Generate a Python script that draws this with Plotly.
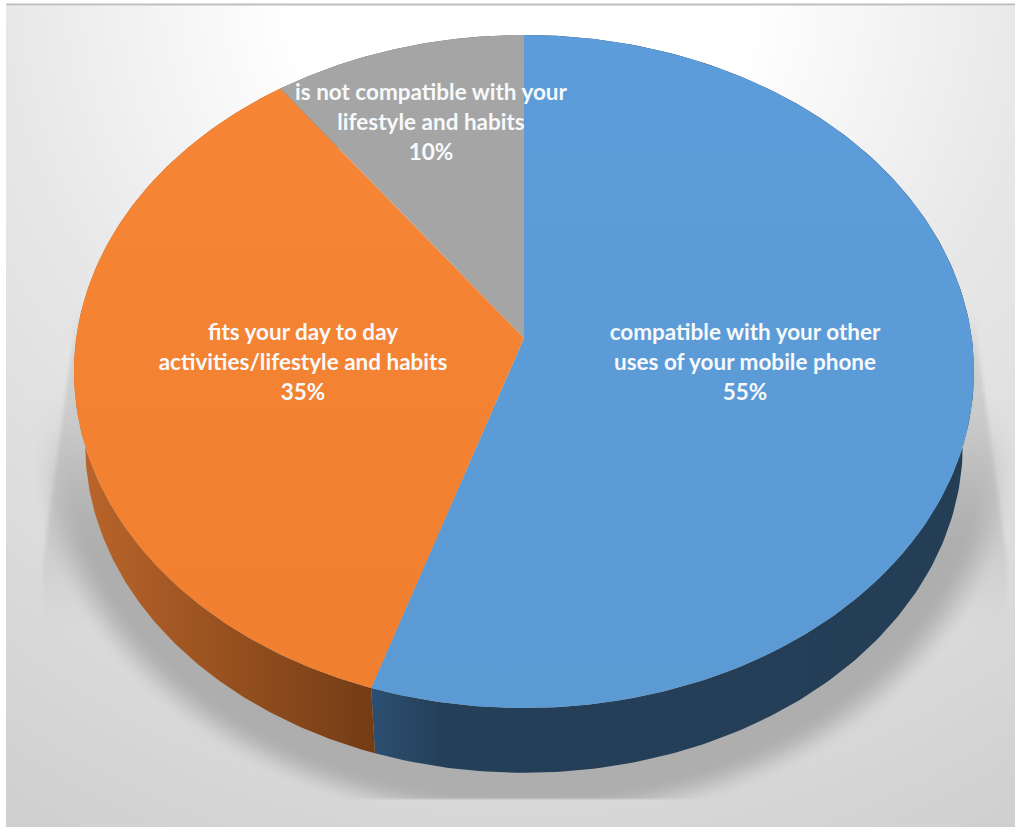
import numpy as np
import plotly.graph_objects as go

# Chart data
categories = [
    "compatible with your other uses of your mobile phone",
    "fits your day to day activities/lifestyle and habits",
    "is not compatible with your lifestyle and habits",
]
shares = [55, 35, 10]

# Label layout: wrapped lines and their centres in canvas units
label_lines = [
    ["compatible with your other", "uses of your mobile phone"],
    ["fits your day to day", "activities/lifestyle and habits"],
    ["is not compatible with your", "lifestyle and habits"],
]
label_x = [745, 303, 431]
label_y = [334, 334, 94]
line_gap = 30

# Slice styling
top_gradients = [
    ["#5B9AD3", "#5C9CDA"],
    ["#F07F30", "#F68536"],
    ["#A5A5A5", "#A5A5A5"],
]
wall_gradients = [
    [[0, "#2C4F72"], [0.12, "#243F58"], [1, "#233E55"]],
    [[0, "#BC662B"], [1, "#733C15"]],
    [[0, "#636363"], [1, "#636363"]],
]

# Perspective model of the tilted disc
WIDTH, HEIGHT = 1015, 827
CX, CY = 524, 338
A, B, K = 447.8, 333.2, 0.0995
WALL_SCALE, WALL_CY = 0.975, 412


def rim(theta, scale=1.0, cy=CY):
    """Project a clockwise-from-top angle (radians) onto the disc rim."""
    u, v = np.sin(theta), -np.cos(theta)
    d = 1 - K * v
    return CX + scale * A * u / d, cy + scale * B * v / d


def smooth(a, b, x):
    s = np.clip((x - a) / (b - a), 0, 1)
    return s * s * (3 - 2 * s)


# Backdrop: soft radial panel with the floor shadow under the disc
gx = np.arange(7.5, WIDTH + 3, 3)
gy = np.arange(7.5, HEIGHT + 3, 3)
X, Y = np.meshgrid(gx, gy)
dist = np.hypot(X - 520, Y + 20)
panel = np.interp(dist, [0, 230, 520, 830, 1020], [255, 255, 231, 215, 205])

r_shadow = np.hypot((X - 524) / 452, (Y - 445) / 350)
core = (1 - smooth(1.0, 1.1, r_shadow)) * smooth(380, 560, Y)
core = np.where(Y < 797, core, 0)
panel = panel * (1 - core) + 174 * core

# Faint sheet that widens towards the bottom on both sides of the disc
half = np.interp(Y, [340, 560], [452, 482])
sheet = (1 - smooth(-3, 3, np.abs(X - 524) - half)) * (1 - smooth(500, 640, Y)) * smooth(300, 380, Y)
panel = panel - 20 * sheet * (1 - core)

fig = go.Figure()
fig.add_trace(go.Heatmap(
    x=gx, y=gy, z=panel, zmin=0, zmax=255, zsmooth="best",
    colorscale=[[0, "#000000"], [1, "#FFFFFF"]],
    showscale=False, hoverinfo="skip",
))

# Slice angles come from the shares, clockwise from twelve o'clock
total = sum(shares)
edges = 2 * np.pi * np.cumsum([0] + shares) / total

# Side walls first, so the top faces cover their hidden parts
for i in range(len(shares)):
    t = np.linspace(edges[i], edges[i + 1], 220)
    xt, yt = rim(t)
    xb, yb = rim(t, WALL_SCALE, WALL_CY)
    fig.add_trace(go.Scatter(
        x=np.r_[xt, xb[::-1]], y=np.r_[yt, yb[::-1]],
        mode="lines", line=dict(width=0), fill="toself",
        fillgradient=dict(type="horizontal", colorscale=wall_gradients[i]),
        hoverinfo="skip", showlegend=False,
    ))

# Top faces
for i, name in enumerate(categories):
    t = np.linspace(edges[i], edges[i + 1], 260)
    xt, yt = rim(t)
    c0, c1 = top_gradients[i]
    fig.add_trace(go.Scatter(
        x=np.r_[CX, xt, CX], y=np.r_[CY, yt, CY],
        mode="lines", line=dict(width=0), fill="toself",
        fillgradient=dict(type="vertical", colorscale=[[0, c0], [1, c1]]),
        name=name, hoverinfo="skip", showlegend=False,
    ))

# Slice labels, one text mark per line for exact line spacing
for i, lines in enumerate(label_lines):
    rows = lines + [f"{shares[i]}%"]
    fig.add_trace(go.Scatter(
        x=[label_x[i]] * len(rows),
        y=[label_y[i] + n * line_gap for n in range(len(rows))],
        text=rows, mode="text", textposition="middle center",
        textfont=dict(family="Lato", size=22.5, color="#F7F9FB", weight="bold"),
        hoverinfo="skip", showlegend=False,
    ))

fig.update_layout(
    width=WIDTH, height=HEIGHT,
    margin=dict(l=0, r=0, t=0, b=0),
    paper_bgcolor="#FFFFFF", plot_bgcolor="#FFFFFF",
    xaxis=dict(range=[0, WIDTH], visible=False, fixedrange=True),
    yaxis=dict(range=[HEIGHT, 0], visible=False, fixedrange=True),
    shapes=[dict(type="line", x0=6, x1=WIDTH, y0=4.5, y1=4.5,
                 line=dict(color="#BDBDBD", width=2))],
)

fig.write_html("out.html")
